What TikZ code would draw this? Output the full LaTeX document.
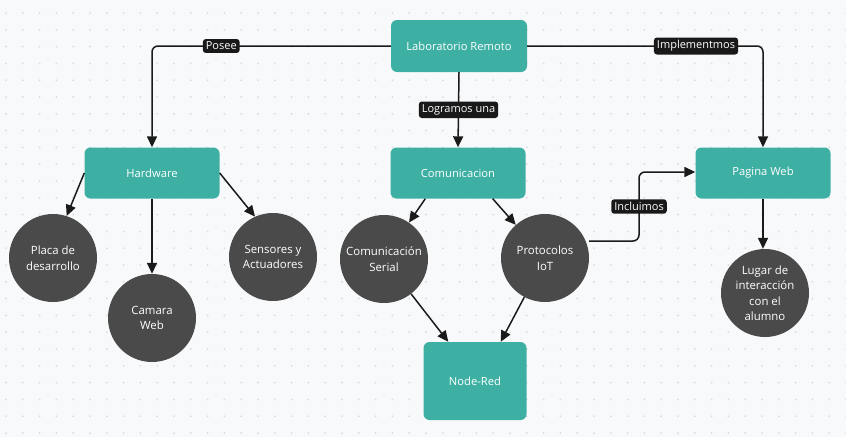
\documentclass[tikz,border=0pt]{standalone}
\usepackage{fontspec}
\setmainfont{Open Sans}
\usetikzlibrary{arrows.meta,positioning,calc}
\definecolor{teal1}{HTML}{3DB0A3}
\definecolor{darkc}{HTML}{4A4A4A}
\definecolor{bgc}{HTML}{F8F9FA}
\definecolor{dotc}{HTML}{D9DBDE}
\definecolor{linec}{HTML}{1A1A1A}
\tikzset{
  box/.style={fill=teal1, rounded corners=6pt, text=white, font=\fontsize{11.2}{13}\selectfont, align=center, inner sep=0pt},
  circ/.style={circle, fill=darkc, text=white, minimum size=88pt, inner sep=0pt, font=\fontsize{11.4}{15.5}\selectfont, align=center},
  conn/.style={draw=linec, line width=1.5pt, rounded corners=6pt, -{Triangle[length=11pt,width=10pt]}},
  lbl/.style={fill=black!90, text=white, rounded corners=3pt, inner xsep=3pt, inner ysep=3pt, font=\fontsize{11}{12}\selectfont}
}
\begin{document}
\begin{tikzpicture}[x=1pt,y=-1pt]
\fill[bgc] (0,0) rectangle (846,437);
\useasboundingbox (0,0) rectangle (846,437);
\foreach \i in {0,...,50} {
  \foreach \j in {0,...,25} {
    \fill[dotc] ({6+16.8*\i},{13+16.8*\j}) circle (1pt);
  }
}
% boxes
\node[box, minimum width=136pt, minimum height=52pt] (lab) at (459,46) {Laboratorio Remoto};
\node[box, minimum width=135pt, minimum height=51pt] (hw) at (152,173) {Hardware};
\node[box, minimum width=135pt, minimum height=51pt] (com) at (458,173) {Comunicacion};
\node[box, minimum width=135pt, minimum height=51pt] (web) at (763,173) {Pagina Web};
\node[box, minimum width=103pt, minimum height=78pt] (nr) at (475,381) {Node-Red};
% circles
\node[circ] (placa) at (53,258) {Placa de\\desarrollo};
\node[circ] (cam) at (152,318) {Camara\\Web};
\node[circ] (sens) at (273,257) {Sensores y\\Actuadores};
\node[circ] (ser) at (384,259) {Comunicación\\Serial};
\node[circ] (iot) at (545,258) {Protocolos\\IoT};
\node[circ] (lug) at (765,293) {Lugar de\\interacción\\con el\\alumno};
% anchor points
\coordinate (coma) at ($(com.south west)+(35,0)$);
\coordinate (comb) at ($(com.south east)+(-33,0)$);
\coordinate (iotr) at (589,241);
\coordinate (nra) at ($(nr.north west)+(25,0)$);
\coordinate (nrb) at ($(nr.north east)+(-26,0)$);
% connectors
\draw[conn] (lab.west) -| node[lbl, pos=0.355] {Posee} (hw.north);
\draw[conn] (lab.east) -| node[lbl, pos=0.358] {Implementmos} (web.north);
\draw[conn] (lab.south) -- node[lbl] {Logramos una} (com.north);
\draw[conn] (hw.west) -- (placa.72);
\draw[conn] (hw.south) -- (cam.north);
\draw[conn] (hw.east) -- (sens.114);
\draw[conn] (coma) -- (ser);
\draw[conn] (comb) -- (iot);
\draw[conn] (iotr) -- (639,241) -- node[lbl] {Incluimos} (639,172) -- (web.west |- 0,172);
\draw[conn] (ser) -- (nra);
\draw[conn] (iot) -- (nrb);
\draw[conn] (web.south) -- (web.south |- lug.north);
\end{tikzpicture}
\end{document}
